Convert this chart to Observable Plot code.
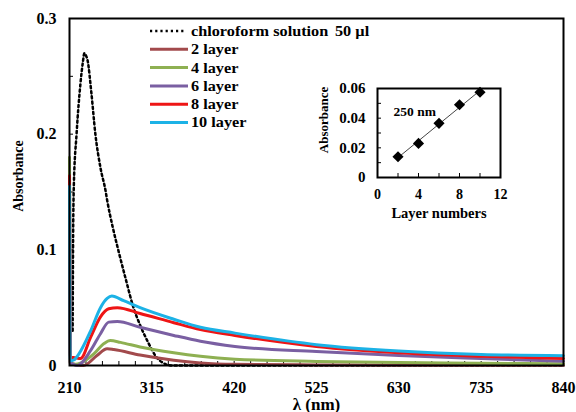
<!DOCTYPE html>
<html>
<head>
<meta charset="utf-8">
<script src="https://cdn.jsdelivr.net/npm/d3@7"></script>
<script src="https://cdn.jsdelivr.net/npm/@observablehq/plot@0.6"></script>
<style>
  html, body { margin: 0; padding: 0; background: white; }
  #wrap { position: relative; width: 576px; height: 412px; overflow: hidden; }
  #inset { position: absolute; left: 300px; top: 60px; }
</style>
</head>
<body>
<div id="wrap"><div id="inset"></div></div>
<script>
// UV-vis spectra: wavelength (nm) vs absorbance
const chloroform = [[214,0.03],[214.5,0.1],[215.5,0.155],[219,0.2],[224,0.244],[227,0.262],[229,0.27],[231,0.268],[233,0.264],[238,0.235],[243,0.2],[249.5,0.171],[256,0.151],[258,0.143],[265,0.12],[272.5,0.099],[282,0.074],[291.6,0.05],[300,0.035],[311,0.019],[320,0.008],[330,0.002],[340,0],[840,0]];
const layer2 = [[210,0.14],[211,0.002],[220,0.0005],[228,0],[245,0.0086],[258,0.0144],[266.5,0.0138],[300,0.009],[343,0.0045],[377,0.0022],[421,0.001],[525,0.0005],[630,0.0003],[840,0.0003]];
const layer4 = [[210,0.18],[211,0.003],[218,0.001],[224,0.002],[241,0.010],[254,0.019],[262,0.0216],[275,0.020],[300,0.016],[343,0.011],[377,0.008],[421,0.0055],[525,0.0035],[630,0.0025],[735,0.002],[840,0.0015]];
const layer6 = [[210,0.15],[211,0.003],[215,0.001],[220,0],[237,0.013],[249.5,0.0275],[260,0.0375],[271,0.038],[300,0.033],[343,0.026],[377,0.021],[421,0.0165],[525,0.012],[630,0.0086],[735,0.006],[840,0.0037]];
const layer8 = [[210,0.164],[211,0.007],[215,0.007],[224,0.006],[237,0.0245],[249.5,0.042],[260,0.049],[271,0.050],[300,0.045],[343,0.037],[377,0.031],[421,0.026],[525,0.0165],[630,0.011],[735,0.008],[840,0.006]];
const layer10 = [[210,0.155],[211,0.004],[216,0.005],[222,0.010],[237,0.030],[249.5,0.050],[258,0.058],[264,0.060],[279,0.056],[300,0.050],[343,0.040],[377,0.033],[421,0.028],[525,0.018],[630,0.0125],[735,0.0095],[840,0.0085]];

const seriesNames = ["2 layer", "4 layer", "6 layer", "8 layer", "10 layer"];
const seriesColors = ["#A24A4C", "#8EB052", "#7A5FA2", "#EE1515", "#1CB2E6"];
const seriesData = [layer2, layer4, layer6, layer8, layer10];

const xTicks = [210, 315, 420, 525, 630, 735, 840];
const xMinor = [210,231,252,273,294,315,336,357,378,399,420,441,462,483,504,525,546,567,588,609,630,651,672,693,714,735,756,777,798,819,840];
const yTicks = [0, 0.1, 0.2, 0.3];
const yMinor = [0.05, 0.1, 0.15, 0.2, 0.25];

// Inset: absorbance at 250 nm against number of layers
const layerCounts = [2, 4, 6, 8, 10];
const absAt250 = [0.014, 0.023, 0.0365, 0.049, 0.0575];
const insetXTicks = [0, 4, 8, 12];
const insetXMinor = [2, 4, 6, 8, 10];
const insetYTicks = [0, 0.02, 0.04, 0.06];
const insetYMinor = [0.01, 0.02, 0.03, 0.04, 0.05];

const FONT = "'Liberation Serif', 'Times New Roman', serif";

const spectra = seriesData.flatMap((pts, i) => pts.map(([wl, a]) => ({wl, a, series: seriesNames[i]})));
const chloro = chloroform.map(([wl, a]) => ({wl, a}));

const chart = Plot.plot({
  width: 576,
  height: 412,
  marginLeft: 69,
  marginRight: 13,
  marginTop: 18,
  marginBottom: 47,
  style: {fontFamily: FONT, fontWeight: "bold", fontSize: "16px", background: "white", color: "black"},
  x: {domain: [210, 840]},
  y: {domain: [0, 0.3]},
  color: {domain: seriesNames, range: seriesColors},
  marks: [
    Plot.axisX(xTicks, {tickSize: 0, tickPadding: 16, label: null, fontSize: 16}),
    Plot.axisX(xMinor, {tickSize: -4, tickFormat: () => "", label: null}),
    Plot.axisY(yTicks, {tickSize: 0, tickPadding: 13, label: null, fontSize: 16, tickFormat: d => d === 0 ? "0" : d.toFixed(1)}),
    Plot.axisY(yMinor, {tickSize: -4, tickFormat: () => "", label: null}),
    Plot.text(["λ (nm)"], {frameAnchor: "bottom", dy: 44, text: d => d, fontSize: 17}),
    Plot.line(chloro, {x: "wl", y: "a", stroke: "black", strokeWidth: 2.5, strokeDasharray: "2.2,3", curve: "monotone-x"}),
    Plot.line(spectra, {x: "wl", y: "a", z: "series", stroke: "series", strokeWidth: 3, curve: "monotone-x"}),
    Plot.frame({stroke: "black", strokeWidth: 2})
  ]
});
document.getElementById("wrap").prepend(chart);

const root = d3.select(chart);
// Y axis title
root.append("text")
  .attr("transform", "translate(18,176) rotate(-90)")
  .attr("text-anchor", "middle").attr("dy", "0.35em")
  .attr("font-family", FONT).attr("font-weight", "bold").attr("font-size", 14)
  .attr("fill", "black").text("Absorbance");

// Legend (text set slightly wide)
const legendEntries = [{name: "chloroform solution", color: "black", dotted: true}]
  .concat(seriesNames.map((n, i) => ({name: n, color: seriesColors[i], dotted: false})));
const lg = root.append("g")
  .attr("font-family", FONT).attr("font-weight", "bold").attr("font-size", 14)
  .attr("text-anchor", "start");
legendEntries.forEach((e, i) => {
  const y = 31 + i * 18.3;
  lg.append("line")
    .attr("x1", 150).attr("x2", e.dotted ? 185 : 188).attr("y1", y).attr("y2", y)
    .attr("stroke", e.color).attr("stroke-width", e.dotted ? 2.5 : 3)
    .attr("stroke-dasharray", e.dotted ? "2.2,3" : null);
  lg.append("text").attr("transform", `translate(191,${y}) scale(1.16,1)`)
    .attr("dy", "0.35em").attr("fill", "black").text(e.name);
});
lg.append("text").attr("transform", "translate(335,31) scale(1.16,1)")
  .attr("dy", "0.35em").attr("fill", "black").text("50 µl");

// Inset chart
const insetData = layerCounts.map((n, i) => ({n, a: absAt250[i]}));
const inset = Plot.plot({
  width: 230,
  height: 170,
  marginLeft: 77,
  marginRight: 30,
  marginTop: 28,
  marginBottom: 53,
  style: {fontFamily: FONT, fontWeight: "bold", fontSize: "13px", background: "transparent", color: "black"},
  x: {domain: [0, 12]},
  y: {domain: [0, 0.06]},
  marks: [
    Plot.axisX(insetXTicks, {tickSize: 0, tickPadding: 12, label: null, fontSize: 14}),
    Plot.axisX(insetXMinor, {tickSize: -4, tickFormat: () => "", label: null}),
    Plot.axisY(insetYTicks, {tickSize: 0, tickPadding: 12, label: null, fontSize: 15, tickFormat: d => d === 0 ? "0" : d.toFixed(2)}),
    Plot.axisY(insetYMinor, {tickSize: -4, tickFormat: () => "", label: null}),
    Plot.text(["Layer numbers"], {frameAnchor: "bottom", dy: 40, text: d => d, fontSize: 14.5}),
    Plot.text(["250 nm"], {frameAnchor: "top-left", dx: 16, dy: 18, textAnchor: "start", text: d => d, fontSize: 13.5}),
    Plot.linearRegressionY(insetData, {x: "n", y: "a", stroke: "#444", strokeWidth: 1, ci: 0}),
    Plot.dot(insetData, {x: "n", y: "a", symbol: "diamond2", r: 5, fill: "black", stroke: "none"}),
    Plot.frame({stroke: "black", strokeWidth: 2})
  ]
});
document.getElementById("inset").append(inset);
d3.select(inset).append("text")
  .attr("transform", "translate(23,60) rotate(-90)")
  .attr("text-anchor", "middle").attr("dy", "0.35em")
  .attr("font-family", FONT).attr("font-weight", "bold").attr("font-size", 13)
  .attr("fill", "black").text("Absorbance");
</script>
</body>
</html>
